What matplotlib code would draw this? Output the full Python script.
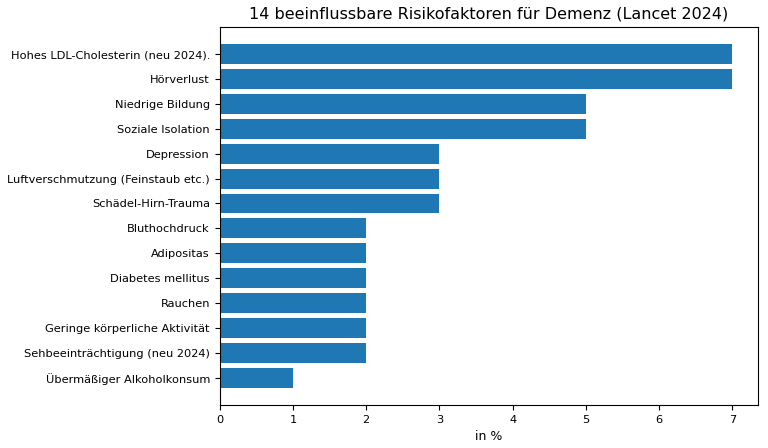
import matplotlib.pyplot as plt

factors = [
    'Hohes LDL-Cholesterin (neu 2024).',
    'Hörverlust',
    'Niedrige Bildung',
    'Soziale Isolation',
    'Depression',
    'Luftverschmutzung (Feinstaub etc.)',
    'Schädel-Hirn-Trauma',
    'Bluthochdruck',
    'Adipositas',
    'Diabetes mellitus',
    'Rauchen',
    'Geringe körperliche Aktivität',
    'Sehbeeinträchtigung (neu 2024)',
    'Übermäßiger Alkoholkonsum',
]
percent = [7, 7, 5, 5, 3, 3, 3, 2, 2, 2, 2, 2, 2, 1]

fig, ax = plt.subplots(figsize=(7.68, 4.48), dpi=100)
ax.barh(factors[::-1], percent[::-1], color='#1f77b4')
ax.set_xlabel('in %', fontsize=9)
ax.set_title('14 beeinflussbare Risikofaktoren für Demenz (Lancet 2024)', fontsize=11.5)
ax.tick_params(labelsize=8.2)
fig.subplots_adjust(left=0.286, right=0.987, top=0.940, bottom=0.096)
plt.savefig('out.png')
